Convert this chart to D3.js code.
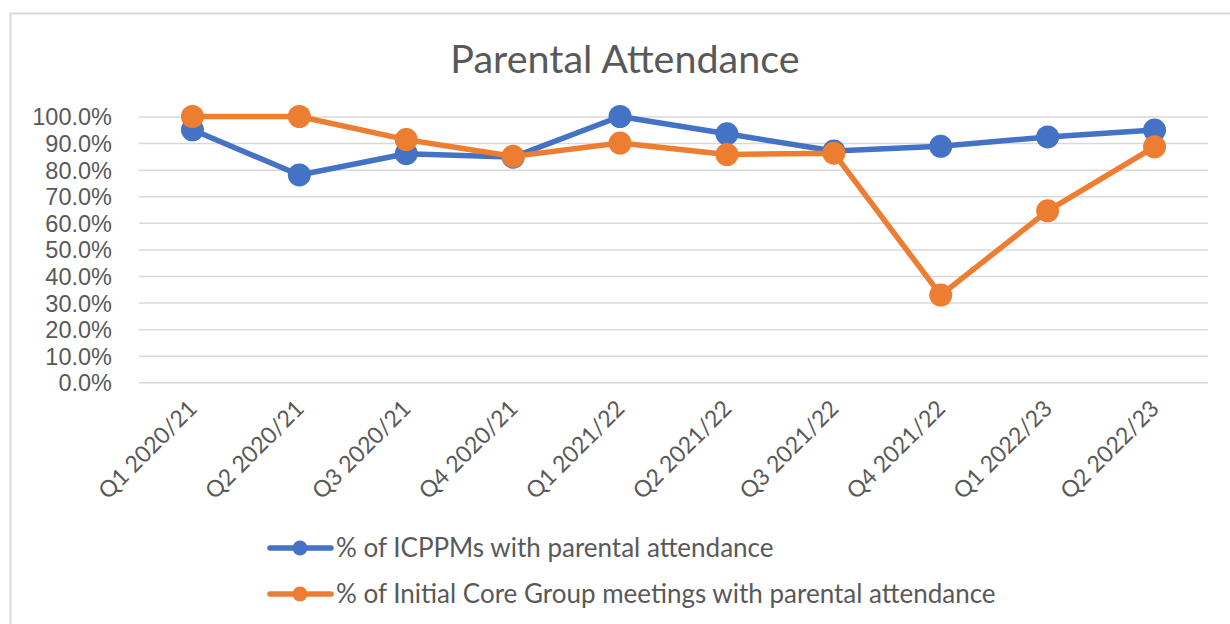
<!DOCTYPE html>
<html lang="en">
<head>
<meta charset="utf-8">
<title>Parental Attendance</title>
<script src="https://cdn.jsdelivr.net/npm/d3@7"></script>
<style>
  body { margin: 0; background: #fff; }
  svg { display: block; font-family: Lato, "Open Sans", sans-serif; }
  .grid line { stroke: #d9d9d9; stroke-width: 1.5px; }
  .axis text { fill: #595959; }
</style>
</head>
<body>
<svg id="chart" width="1230" height="624"></svg>
<script>
// quarters on the x axis
var quarters = ["Q1 2020/21", "Q2 2020/21", "Q3 2020/21", "Q4 2020/21", "Q1 2021/22",
                "Q2 2021/22", "Q3 2021/22", "Q4 2021/22", "Q1 2022/23", "Q2 2022/23"];

// % of ICPPMs with parental attendance
var icppm = [0.95, 0.78, 0.86, 0.847, 1.00, 0.935, 0.87, 0.888, 0.923, 0.949];

// % of Initial Core Group meetings with parental attendance
var coreGroup = [1.00, 1.00, 0.913, 0.85, 0.90, 0.857, 0.862, 0.328, 0.645, 0.886];

var yTicks = [0, 0.1, 0.2, 0.3, 0.4, 0.5, 0.6, 0.7, 0.8, 0.9, 1.0];

var seriesNames = ["% of ICPPMs with parental attendance",
                   "% of Initial Core Group meetings with parental attendance"];
var colors = ["#4472c4", "#ed7d31"];

var svg = d3.select("#chart");

// chart area frame (continues past the right and bottom edge)
svg.append("path")
  .attr("d", "M10.5,640 V13.5 H1240")
  .attr("fill", "none")
  .attr("stroke", "#d9d9d9")
  .attr("stroke-width", 2);

var plotL = 139, plotR = 1208, plotT = 116.5, plotB = 382.3;

var x = d3.scalePoint().domain(quarters).range([plotL, plotR]).padding(0.5);
var y = d3.scaleLinear().domain([0, 1]).range([plotB, plotT]);

// title
svg.append("text")
  .attr("x", 625)
  .attr("y", 73)
  .attr("text-anchor", "middle")
  .attr("font-size", 39.5)
  .attr("fill", "#595959")
  .text("Parental Attendance");

// y axis + gridlines
var yAxis = d3.axisLeft(y)
  .tickValues(yTicks)
  .tickFormat(d3.format(".1%"))
  .tickSize(-(plotR - plotL))
  .tickPadding(27);

var gy = svg.append("g")
  .attr("class", "axis grid")
  .attr("transform", "translate(" + plotL + ",0)")
  .call(yAxis);
gy.select(".domain").remove();
gy.selectAll("text").attr("font-size", 23.5).attr("dy", "0.36em");

// x axis labels, rotated
var gx = svg.append("g").attr("class", "axis");
gx.selectAll("text")
  .data(quarters)
  .enter().append("text")
  .attr("transform", function (d) { return "translate(" + (x(d) + 6) + "," + 410 + ") rotate(-45)"; })
  .attr("text-anchor", "end")
  .attr("font-size", 23)
  .attr("fill", "#595959")
  .text(function (d) { return d; });

// lines and markers
var line = d3.line()
  .x(function (d, i) { return x(quarters[i]); })
  .y(function (d) { return y(d); });

[icppm, coreGroup].forEach(function (vals, k) {
  var g = svg.append("g");
  g.append("path")
    .datum(vals)
    .attr("d", line)
    .attr("fill", "none")
    .attr("stroke", colors[k])
    .attr("stroke-width", 5.5)
    .attr("stroke-linejoin", "round");
  g.selectAll("circle")
    .data(vals)
    .enter().append("circle")
    .attr("cx", function (d, i) { return x(quarters[i]); })
    .attr("cy", function (d) { return y(d); })
    .attr("r", 11.5)
    .attr("fill", colors[k]);
});

// legend
var legend = svg.append("g")
  .selectAll("g")
  .data(seriesNames)
  .enter().append("g")
  .attr("transform", function (d, i) { return "translate(0," + (548 + i * 46) + ")"; });

legend.append("line")
  .attr("x1", 270).attr("x2", 331)
  .attr("stroke", function (d, i) { return colors[i]; })
  .attr("stroke-width", 5.5)
  .attr("stroke-linecap", "round");

legend.append("circle")
  .attr("cx", 300)
  .attr("r", 7.5)
  .attr("fill", function (d, i) { return colors[i]; });

legend.append("text")
  .attr("x", 336)
  .attr("dy", "0.35em")
  .attr("font-size", 26)
  .attr("fill", "#595959")
  .text(function (d) { return d; });
</script>
</body>
</html>
